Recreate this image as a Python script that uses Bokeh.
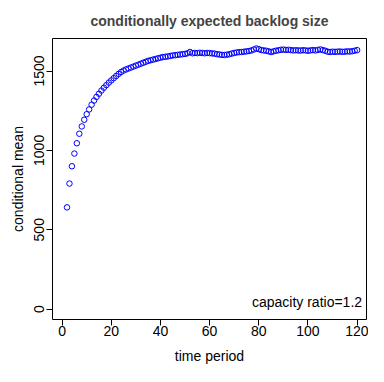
from bokeh.plotting import figure
from bokeh.models import FixedTicker, Range1d, Label
from bokeh.embed import file_html
from bokeh.resources import INLINE

# time periods 2..120
periods = list(range(2, 121))
cond_mean = [
    641, 791, 900, 980, 1045, 1105, 1151, 1193, 1228, 1258,          # 2-11
    1288, 1314, 1337, 1357, 1377, 1395, 1411, 1427, 1441, 1455,      # 12-21
    1469, 1482, 1494, 1503, 1510, 1516, 1522, 1528, 1534, 1540,      # 22-31
    1546, 1552, 1558, 1564, 1568, 1572, 1576, 1580, 1584, 1588,      # 32-41
    1590, 1592, 1595, 1598, 1600, 1602, 1604, 1606, 1608, 1612,      # 42-51
    1620, 1612, 1614, 1613, 1615, 1614, 1612, 1614, 1613, 1611,      # 52-61
    1610, 1606, 1604, 1602, 1601, 1603, 1606, 1610, 1614, 1617,      # 62-71
    1619, 1620, 1622, 1624, 1626, 1630, 1636, 1642, 1638, 1632,      # 72-81
    1630, 1628, 1624, 1620, 1624, 1628, 1631, 1634, 1635, 1633,      # 82-91
    1634, 1632, 1630, 1631, 1630, 1629, 1631, 1630, 1628, 1630,      # 92-101
    1632, 1630, 1633, 1636, 1632, 1628, 1622, 1620, 1622, 1621,      # 102-111
    1622, 1623, 1621, 1622, 1624, 1623, 1625, 1628, 1632,            # 112-120
]
x_ticks = [0, 20, 40, 60, 80, 100, 120]
y_ticks = [0, 500, 1000, 1500]
title_text = "conditionally expected backlog size"
x_label = "time period"
y_label = "conditional mean"
note_text = "capacity ratio=1.2"

FONT = "Liberation Sans"

p = figure(width=368, height=366, output_backend="svg", toolbar_location=None,
           x_range=Range1d(-3.9, 123.8), y_range=Range1d(-65.6, 1705),
           min_border_left=52, min_border_right=2, min_border_top=37,
           min_border_bottom=46, title=title_text)

p.title.text_font = FONT
p.title.text_font_size = "14px"
p.title.text_font_style = "bold"
p.title.align = "center"
p.title.standoff = 20

p.outline_line_color = "black"
p.outline_line_width = 1
p.outline_line_alpha = 1
p.xgrid.visible = False
p.ygrid.visible = False
p.background_fill_color = "white"
p.border_fill_color = "white"

for ax in (p.xaxis[0], p.yaxis[0]):
    ax.axis_line_color = None
    ax.major_tick_line_color = "black"
    ax.major_tick_in = 0
    ax.major_tick_out = 6
    ax.minor_tick_line_color = None
    ax.major_label_text_font = FONT
    ax.major_label_text_font_size = "14px"
    ax.major_label_text_color = "black"
    ax.axis_label_text_font = FONT
    ax.axis_label_text_font_size = "14px"
    ax.axis_label_text_font_style = "normal"
    ax.axis_label_text_color = "black"

p.xaxis.ticker = FixedTicker(ticks=x_ticks)
p.yaxis.ticker = FixedTicker(ticks=y_ticks)
p.xaxis.axis_label = x_label
p.yaxis.axis_label = y_label
p.yaxis.major_label_orientation = "vertical"
p.xaxis.major_label_standoff = 0
p.yaxis.major_label_standoff = 2
p.xaxis.axis_label_standoff = 9
p.yaxis.axis_label_standoff = 6

p.scatter(periods, cond_mean, marker="circle", size=5.5, fill_color=None,
          line_color="blue", line_width=1)

note = Label(x=p.x_range.end - 1.8, y=47, text=note_text, text_align="right",
             text_baseline="middle", text_font=FONT, text_font_size="14px",
             text_color="black")
p.add_layout(note)

open("out.html", "w").write(file_html(p, INLINE))
